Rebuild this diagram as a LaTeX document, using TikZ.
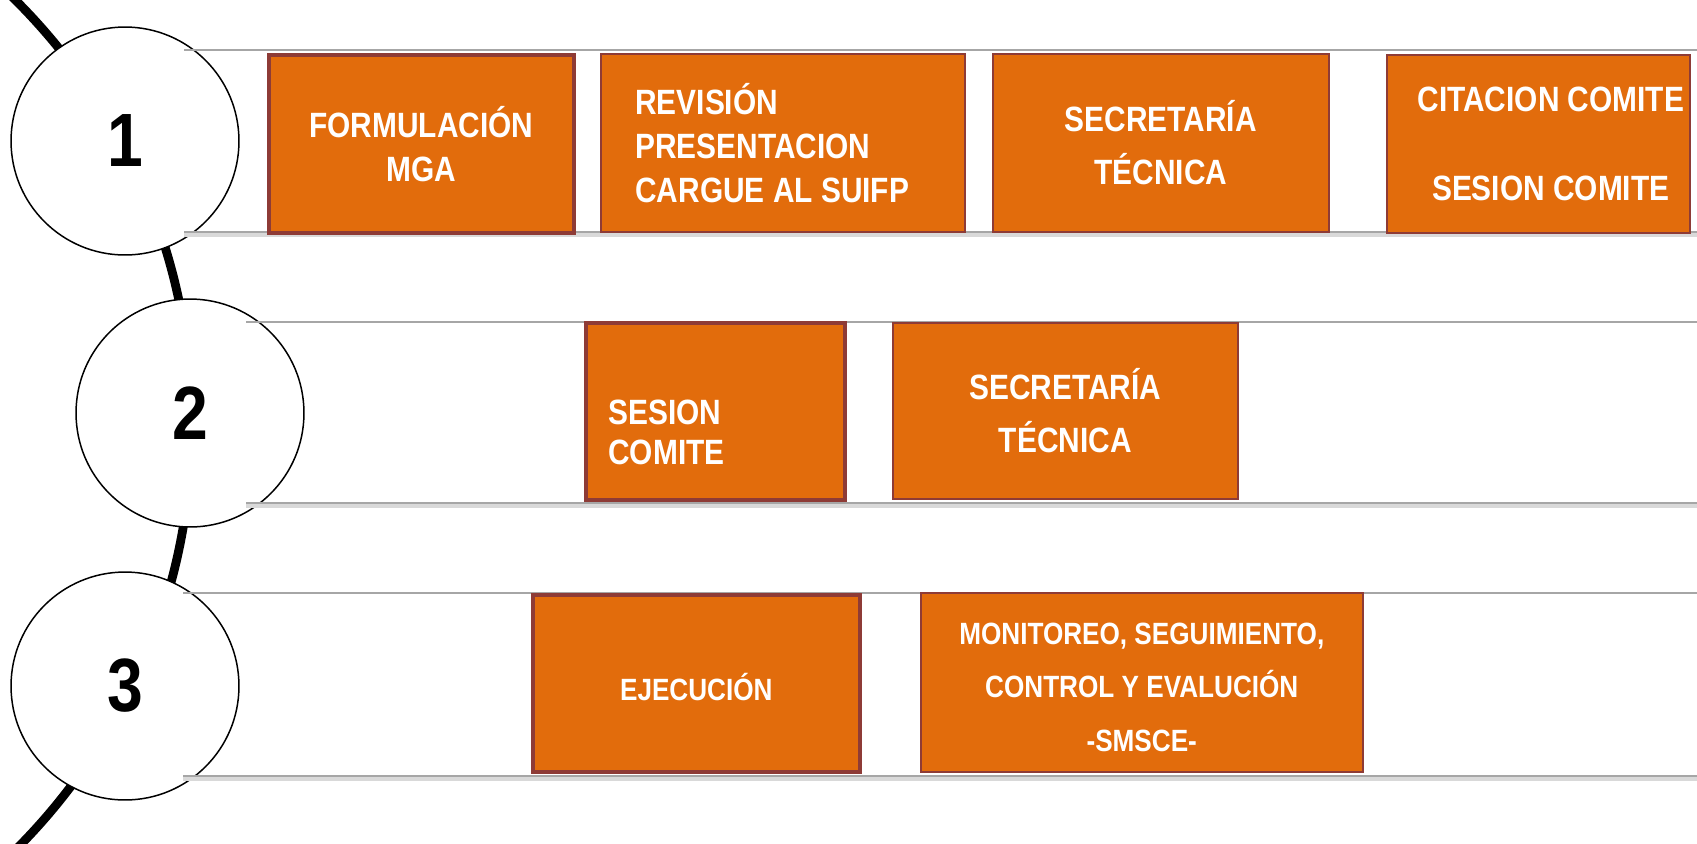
\documentclass[tikz,border=0pt]{standalone}
\usepackage{fontspec}
\setmainfont{Liberation Sans}[FakeStretch=0.85]
\usetikzlibrary{positioning}

\definecolor{BoxFill}{RGB}{226,108,12}
\definecolor{BoxBorder}{RGB}{142,59,54}
\colorlet{RowLine}{black!35}
\colorlet{RowShadow}{black!15}

\tikzset{
    phase circle/.style={
        circle, draw, fill=white, line width=0.85pt, minimum size=4.56cm,
        inner sep=0pt, font=\bfseries\fontsize{43}{43}\selectfont
    },
    stage box/.style={
        rectangle, draw=BoxBorder, fill=BoxFill, line width=0.9pt,
        anchor=north west, inner sep=0pt
    },
    main box/.style={stage box, line width=2.1pt},
    box text/.style={text=white, inner sep=0pt, font=\bfseries\fontsize{20}{25}\selectfont},
    small text/.style={box text, font=\bfseries\fontsize{17.5}{30.5}\selectfont},
    row line/.style={draw=RowLine, line width=1.1pt},
}

\begin{document}
\begin{tikzpicture}[x=0.02cm, y=-0.02cm]
\clip (0,0) rectangle (1697,843);

% Linea de tiempo (detras de las fases)
\draw[line width=5pt] (-408,425) circle (12cm);

% Fases
\node[phase circle] (c1) at (125,141) {1};
\node[phase circle] (c2) at (190,413) {2};
\node[phase circle] (c3) at (125,686) {3};

% Franjas de cada fase
\foreach \y/\x in {50/184, 322/246, 593/183} {
    \draw[row line] (\x,\y) -- (1697,\y);
}
\foreach \y/\x in {232/184, 503/246, 776/183} {
    \draw[RowShadow, line width=2pt] (\x,\y+3) -- (1697,\y+3);
    \draw[row line] (\x,\y) -- (1697,\y);
}

% Fase 1
\node[main box, minimum width=6.10cm, minimum height=3.56cm] (b1) at (267,53) {};
\node[stage box, minimum width=7.28cm, minimum height=3.56cm] (b2) at (600,53) {};
\node[stage box, minimum width=6.72cm, minimum height=3.56cm] (b3) at (992,53) {};
\node[stage box, minimum width=6.06cm, minimum height=3.56cm] (b4) at (1386,54) {};

\node[box text, align=center] (t1) at (b1.center) {FORMULACIÓN\\MGA};
\node[box text, align=left, anchor=west] (t2) at ([xshift=0.7cm]b2.west)
    {REVISIÓN\\PRESENTACION\\CARGUE AL SUIFP};
\node[box text, align=center, font=\bfseries\fontsize{20}{30.5}\selectfont] (t3)
    at (b3.center) {SECRETARÍA\\TÉCNICA};
\node[box text, align=center, font=\bfseries\fontsize{20}{50.5}\selectfont] (t4)
    at ([xshift=0.25cm]b4.center) {CITACION COMITE\\SESION COMITE};

% Fase 2
\node[main box, minimum width=5.18cm, minimum height=3.54cm] (b5) at (584,321) {};
\node[stage box, minimum width=6.90cm, minimum height=3.52cm] (b6) at (892,322) {};

\node[box text, align=left, anchor=west, font=\bfseries\fontsize{20}{22.7}\selectfont] (t5)
    at ([xshift=0.48cm, yshift=-0.43cm]b5.west) {SESION\\COMITE};
\node[box text, align=center, font=\bfseries\fontsize{20}{30.5}\selectfont] (t6)
    at (b6.center) {SECRETARÍA\\TÉCNICA};

% Fase 3
\node[main box, minimum width=6.54cm, minimum height=3.54cm] (b7) at (531,593) {};
\node[stage box, minimum width=8.84cm, minimum height=3.58cm] (b8) at (920,592) {};

\node[small text] (t7) at ([yshift=-0.08cm]b7.center) {EJECUCIÓN};
\node[small text, align=center] (t8) at ([yshift=-0.1cm]b8.center)
    {MONITOREO, SEGUIMIENTO,\\CONTROL Y EVALUCIÓN\\-SMSCE-};
\end{tikzpicture}
\end{document}
